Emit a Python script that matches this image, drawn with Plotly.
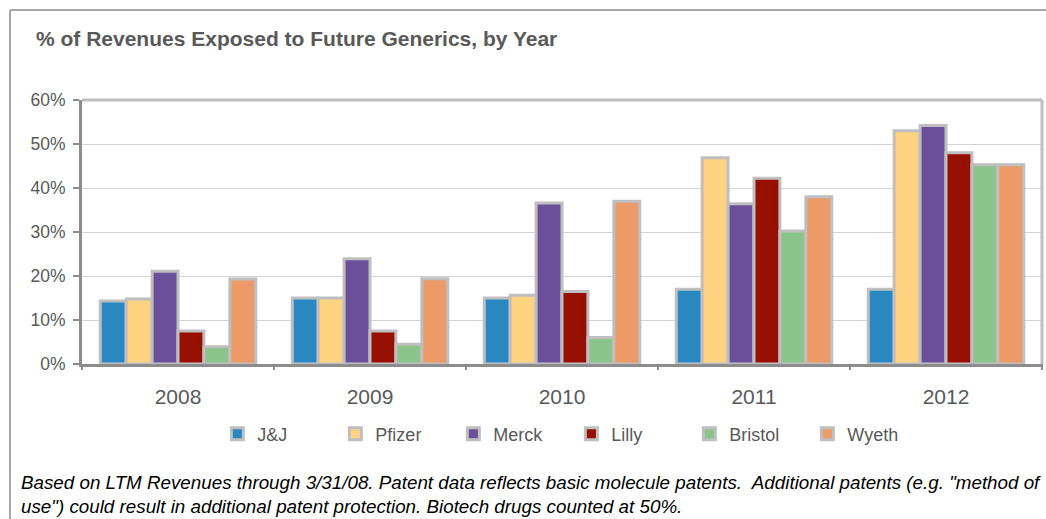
import plotly.graph_objects as go

years = ["2008", "2009", "2010", "2011", "2012"]
companies = ["J&J", "Pfizer", "Merck", "Lilly", "Bristol", "Wyeth"]
jnj = [14.3, 15.0, 15.0, 17.0, 17.0]
pfizer = [14.8, 15.0, 15.6, 46.9, 53.0]
merck = [21.1, 23.9, 36.6, 36.4, 54.2]
lilly = [7.5, 7.5, 16.5, 42.2, 48.0]
bristol = [3.9, 4.5, 6.0, 30.2, 45.3]
wyeth = [19.3, 19.4, 37.0, 38.0, 45.3]
series = [jnj, pfizer, merck, lilly, bristol, wyeth]
colors = ["#2988C2", "#FED380", "#6C4F9A", "#970F00", "#8BC488", "#EC9B68"]
y_ticks = [0, 10, 20, 30, 40, 50, 60]
y_tick_labels = ["0%", "10%", "20%", "30%", "40%", "50%", "60%"]

W, H = 1046, 519
ML, MR, MT, MB = 82, 4, 100, 155

fig = go.Figure()
for name, vals, col in zip(companies, series, colors):
    fig.add_trace(go.Bar(
        x=years, y=vals, name=name,
        marker=dict(color=col, line=dict(color="#BFBFBF", width=3)),
    ))

fig.update_layout(
    width=W, height=H,
    margin=dict(l=ML, r=MR, t=MT, b=MB, pad=0),
    paper_bgcolor="white", plot_bgcolor="white",
    barmode="group", bargap=0.19, bargroupgap=0.0,
    font=dict(family="Liberation Sans, Arial, sans-serif", color="#595959"),
    showlegend=True,
    legend=dict(
        orientation="h", x=0.141, xanchor="left", y=-0.195, yanchor="top",
        font=dict(size=18, family="Liberation Sans, Arial, sans-serif", color="#595959"),
        entrywidth=73, entrywidthmode="pixels", itemwidth=30,
        traceorder="normal",
    ),
)
fig.update_xaxes(
    showline=True, linecolor="#8C8C8C", linewidth=3,
    ticks="", tickfont=dict(size=21, color="#595959"),
    ticklabelstandoff=12,
    showgrid=False, mirror=False,
)
fig.update_yaxes(
    range=[0, 60], tickvals=y_ticks, ticktext=y_tick_labels,
    showline=True, linecolor="#8C8C8C", linewidth=3,
    ticks="outside", ticklen=6, tickwidth=2, tickcolor="#8C8C8C",
    tickfont=dict(size=17.5, color="#595959"),
    ticklabelstandoff=4,
    showgrid=True, gridcolor="#D3D3D3", gridwidth=1, zeroline=False,
)

shapes = []
ph = H - MT - MB
pw = W - ML - MR
def px_x(x):
    return (x - ML) / pw
def px_y(y):
    return (H - MB - y) / ph
# category boundary tick marks on x axis
for i in range(6):
    shapes.append(dict(type="line", xref="paper", yref="paper",
                       x0=i / 5, x1=i / 5, y0=0, y1=-6 / ph,
                       line=dict(color="#8C8C8C", width=2)))
# top and right border of plot area
shapes.append(dict(type="line", xref="paper", yref="paper", x0=0, x1=1, y0=1, y1=1,
                   line=dict(color="#BFBFBF", width=3)))
shapes.append(dict(type="line", xref="paper", yref="paper", x0=1, x1=1, y0=0, y1=1,
                   line=dict(color="#BFBFBF", width=3)))
# outer frame
shapes.append(dict(type="line", xref="paper", yref="paper",
                   x0=px_x(10), x1=px_x(1060), y0=px_y(10), y1=px_y(10),
                   line=dict(color="#A6A6A6", width=2)))
shapes.append(dict(type="line", xref="paper", yref="paper",
                   x0=px_x(10), x1=px_x(10), y0=px_y(10), y1=px_y(530),
                   line=dict(color="#A6A6A6", width=2)))
fig.update_layout(shapes=shapes)

fig.add_annotation(
    xref="paper", yref="paper", x=px_x(34), y=px_y(38), xanchor="left", yanchor="middle",
    text="<b>% of Revenues Exposed to Future Generics, by Year</b>", showarrow=False,
    font=dict(size=21, color="#595959", family="Liberation Sans, Arial, sans-serif"),
)
fig.add_annotation(
    xref="paper", yref="paper", x=px_x(19), y=px_y(494), xanchor="left", yanchor="middle",
    align="left",
    text="<i>Based on LTM Revenues through 3/31/08. Patent data reflects basic molecule patents.  Additional patents (e.g. \"method of</i><br><i>use\") could result in additional patent protection. Biotech drugs counted at 50%.</i>",
    showarrow=False,
    font=dict(size=18.8, color="#000000", family="Liberation Sans, Arial, sans-serif"),
)

fig.write_html("out.html")
